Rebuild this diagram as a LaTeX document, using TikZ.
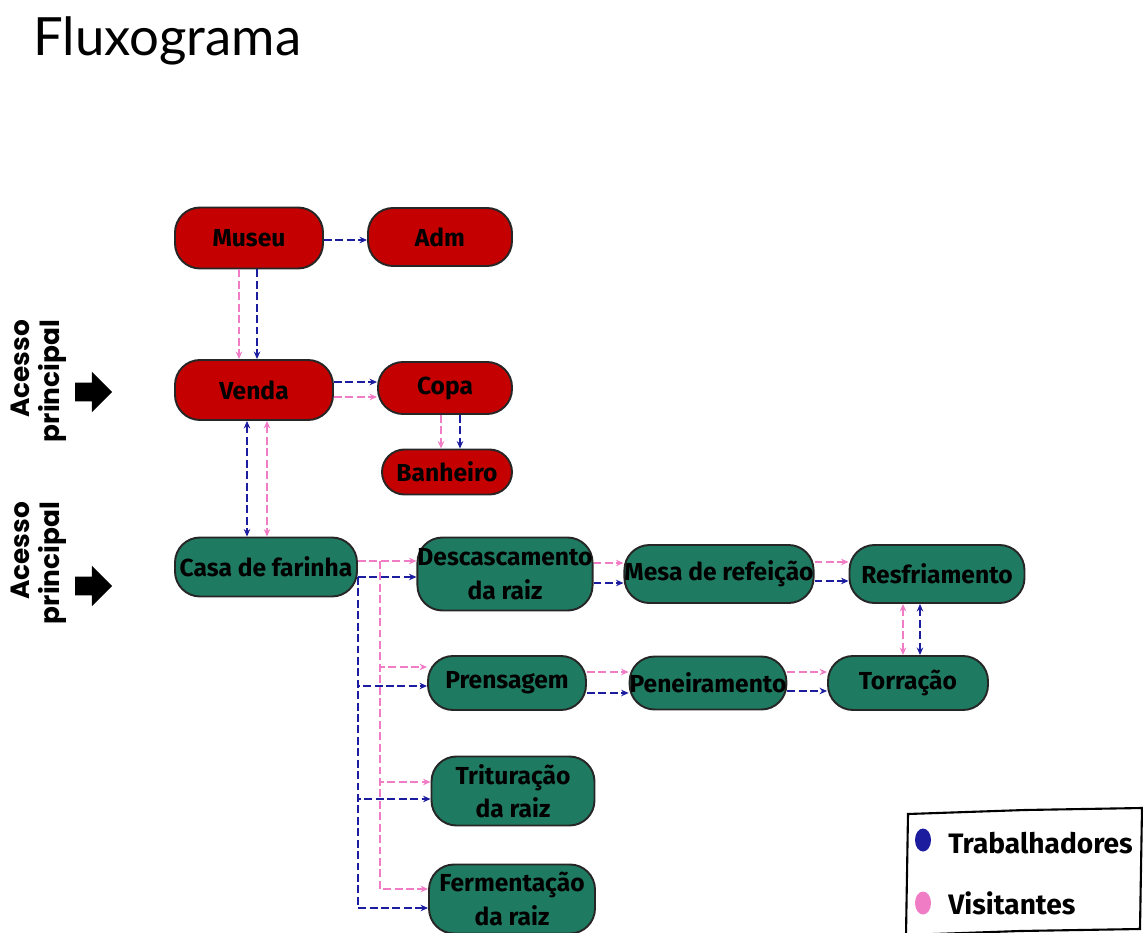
\documentclass[tikz,border=0pt]{standalone}
\usepackage{fontspec}
\setmainfont{Fira Sans}
\newfontfamily\titlefont{Lato}
\newfontfamily\accfont{Poppins}
\usepackage{tikz}
\usetikzlibrary{arrows.meta,shapes.arrows,shapes.geometric,calc}
\definecolor{boxred}{HTML}{C40000}
\definecolor{boxgreen}{HTML}{1F7A62}
\definecolor{wblue}{HTML}{1C1C9E}
\definecolor{vpink}{HTML}{F07CC6}

\begin{document}
\begin{tikzpicture}[
  x=0.02cm, y=-0.02cm,
  >={Stealth[length=1.5mm,width=1.3mm]},
  every node/.style={font=\fontsize{14}{19}\selectfont\bfseries},
  box/.style={draw=black!85, line width=1.1pt, rounded corners=0.5cm, align=center, inner sep=0pt},
  rbox/.style={box, fill=boxred},
  gbox/.style={box, fill=boxgreen},
  wrk/.style={->, wblue, line width=0.9pt, dash pattern=on 4.5pt off 2pt},
  vis/.style={->, vpink, line width=0.8pt, dash pattern=on 4.5pt off 2pt},
  bigarrow/.style={single arrow, fill=black, minimum height=0.74cm, inner xsep=0pt, inner ysep=0.18cm, single arrow head extend=0.22cm, single arrow tip angle=90},
  acc/.style={font=\accfont\fontsize{15}{17}\selectfont\bfseries, rotate=90, align=right, inner sep=0pt},
  lgtext/.style={font=\fontsize{16}{20}\selectfont\bfseries, anchor=west, inner sep=0pt}
]
\useasboundingbox (0,0) rectangle (1143,933);

% Title
\node[font=\titlefont\fontsize{30}{34}\selectfont, anchor=base west, inner sep=0pt] (title) at (33,55) {Fluxograma};

% Main access
\node[acc] (acc1) at (39,381) {Acesso\\principal};
\node[bigarrow] (arr1) at (89,392) {};
\node[acc] (acc2) at (39,563) {Acesso\\principal};
\node[bigarrow] (arr2) at (89,586) {};

% Red block
\node[rbox, minimum width=2.96cm, minimum height=1.22cm] (museu) at (249,238) {Museu};
\node[rbox, minimum width=2.88cm, minimum height=1.16cm] (adm) at (440,237) {Adm};
\node[rbox, minimum width=3.16cm, minimum height=1.2cm] (venda) at (254,390) {Venda};
\node[rbox, minimum width=2.68cm, minimum height=1.04cm] (copa) at (445,388) {Copa};
\node[rbox, minimum width=2.6cm, minimum height=0.9cm, rounded corners=0.45cm] (banh) at (447,472) {Banheiro};

% Green block
\node[gbox, minimum width=3.64cm, minimum height=1.18cm] (casa) at (266,567) {Casa de farinha};
\node[gbox, minimum width=3.4cm, minimum height=1.46cm] (desc) at (505,574) {Descascamento\\da raiz};
\node[gbox, minimum width=3.5cm, minimum height=1.16cm] (mesa) at (719,574) {Mesa de refeição};
\node[gbox, minimum width=3.5cm, minimum height=1.16cm] (resf) at (937,574) {Resfriamento};
\node[gbox, minimum width=3.16cm, minimum height=1.08cm] (pren) at (507,683) {Prensagem};
\node[gbox, minimum width=3.06cm, minimum height=1.06cm] (pene) at (708,683) {Peneiramento};
\node[gbox, minimum width=3.2cm, minimum height=1.08cm] (torr) at (908,683) {Torração};
\node[gbox, minimum width=3.26cm, minimum height=1.38cm] (trit) at (513,791) {Trituração\\da raiz};
\node[gbox, minimum width=3.32cm, minimum height=1.38cm] (ferm) at (512,899) {Fermentação\\da raiz};

% Flows in the red block
\draw[wrk] (museu.east |- 0,240) -- (adm.west |- 0,240);
\draw[vis] (museu.south -| 239,0) -- (venda.north -| 239,0);
\draw[wrk] (museu.south -| 257,0) -- (venda.north -| 257,0);
\draw[wrk] (venda.east |- 0,382) -- (copa.west |- 0,382);
\draw[vis] (venda.east |- 0,397) -- (copa.west |- 0,397);
\draw[vis] (copa.south -| 441,0) -- (banh.north -| 441,0);
\draw[wrk] (copa.south -| 460,0) -- (banh.north -| 460,0);
\draw[wrk, <->] (venda.south -| 247,0) -- (casa.north -| 247,0);
\draw[vis, <->] (venda.south -| 267,0) -- (casa.north -| 267,0);

% Flows in the green block
\draw[vis] (casa.east |- 0,561) -- (desc.west |- 0,561);
\draw[wrk] (casa.east |- 0,577) -- (desc.west |- 0,577);
\coordinate (vj) at (380,561);
\coordinate (wj) at (358,577);
\draw[vis] (vj) |- (pren.west |- 0,667);
\draw[vis] (vj) |- (trit.west |- 0,782);
\draw[vis] (vj) |- (ferm.west |- 0,889);
\draw[wrk] (wj) |- (pren.west |- 0,686);
\draw[wrk] (wj) |- (trit.west |- 0,799);
\draw[wrk] (wj) |- (ferm.west |- 0,908);

\draw[vis] (desc.east |- 0,563) -- (mesa.west |- 0,563);
\draw[wrk] (desc.east |- 0,583) -- (mesa.west |- 0,583);
\draw[vis] (mesa.east |- 0,562) -- (resf.west |- 0,562);
\draw[wrk] (mesa.east |- 0,581) -- (resf.west |- 0,581);
\draw[vis] (pren.east |- 0,672) -- (pene.west |- 0,672);
\draw[wrk] (pren.east |- 0,693) -- (pene.west |- 0,693);
\draw[vis] (pene.east |- 0,672) -- (torr.west |- 0,672);
\draw[wrk] (pene.east |- 0,691) -- (torr.west |- 0,691);
\draw[vis, <->] (torr.north -| 903,0) -- (resf.south -| 903,0);
\draw[wrk, <->] (torr.north -| 920,0) -- (resf.south -| 920,0);

% Legend
\draw[line width=1.2pt] (908,814) -- (1025,810) -- (1142,808) -- (1140,929) -- (1020,931) -- (906,935) -- cycle;
\node[ellipse, fill=wblue, minimum width=0.32cm, minimum height=0.46cm, inner sep=0pt] (dotw) at (923,840) {};
\node[ellipse, fill=vpink, minimum width=0.32cm, minimum height=0.46cm, inner sep=0pt] (dotv) at (923,903) {};
\node[lgtext] (lgw) at (948,843) {Trabalhadores};
\node[lgtext] (lgv) at (948,903) {Visitantes};

\end{tikzpicture}
\end{document}
